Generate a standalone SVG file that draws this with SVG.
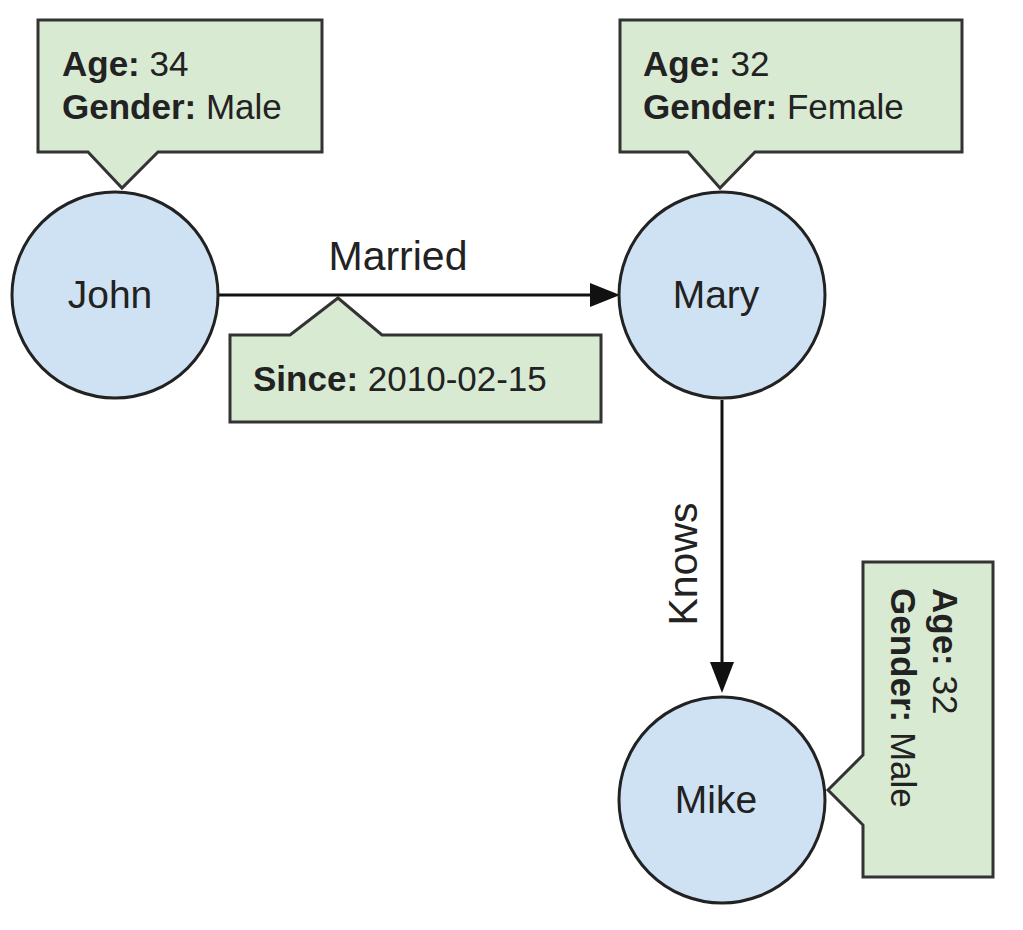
<svg xmlns="http://www.w3.org/2000/svg" width="1023" height="930" viewBox="0 0 1023 930">
<style>
.c{fill:#cfe2f3;stroke:#222;stroke-width:3}
.b{fill:#d9ead3;stroke:#333;stroke-width:3;stroke-linejoin:miter}
text{font-family:"Liberation Sans",Arial,sans-serif;font-size:35px;fill:#222}
.n{font-size:39px}
.l{font-size:41px}
.bd{font-weight:bold}
.e{stroke:#111;stroke-width:3;fill:none}
.h{fill:#111}
</style>
<rect width="1023" height="930" fill="#fff"/>
<g id="edges">
<line class="e" x1="218" y1="295" x2="592" y2="295"/>
<path class="h" d="M590,283L620,295L590,307z"/>
<text class="l" x="398" y="270" text-anchor="middle">Married</text>
<line class="e" x1="722" y1="400" x2="722" y2="665"/>
<path class="h" d="M710,662L722,693L734,662z"/>
<text class="l" transform="translate(697,564) rotate(-90)" text-anchor="middle">Knows</text>
</g>
<g id="john"><circle class="c" cx="115" cy="295" r="103"/><text class="n" x="110" y="308" text-anchor="middle">John</text></g>
<g id="mary"><circle class="c" cx="722" cy="295" r="103"/><text class="n" x="716" y="308" text-anchor="middle">Mary</text></g>
<g id="mike"><circle class="c" cx="722" cy="800" r="103"/><text class="n" x="716" y="813" text-anchor="middle">Mike</text></g>
<g id="john-props"><path class="b" d="M38,20H322V152H158L122,188L88,152H38Z"/>
<text x="62" y="76"><tspan class="bd">Age:</tspan> 34</text>
<text x="62" y="119"><tspan class="bd">Gender:</tspan> Male</text></g>
<g id="mary-props"><path class="b" d="M620,20H962V152H755L720,188L688,152H620Z"/>
<text x="643" y="76"><tspan class="bd">Age:</tspan> 32</text>
<text x="643" y="119"><tspan class="bd">Gender:</tspan> Female</text></g>
<g id="since-props"><path class="b" d="M230,335H290L338,298L382,335H601V422H230Z"/>
<text x="253" y="391"><tspan class="bd">Since:</tspan> 2010-02-15</text></g>
<g id="mike-props"><path class="b" d="M863,562H993V877H863V825L828,790L863,755Z"/>
<text transform="translate(933,588) rotate(90)"><tspan class="bd">Age:</tspan> 32</text>
<text transform="translate(891,588) rotate(90)"><tspan class="bd">Gender:</tspan> Male</text></g>
</svg>
